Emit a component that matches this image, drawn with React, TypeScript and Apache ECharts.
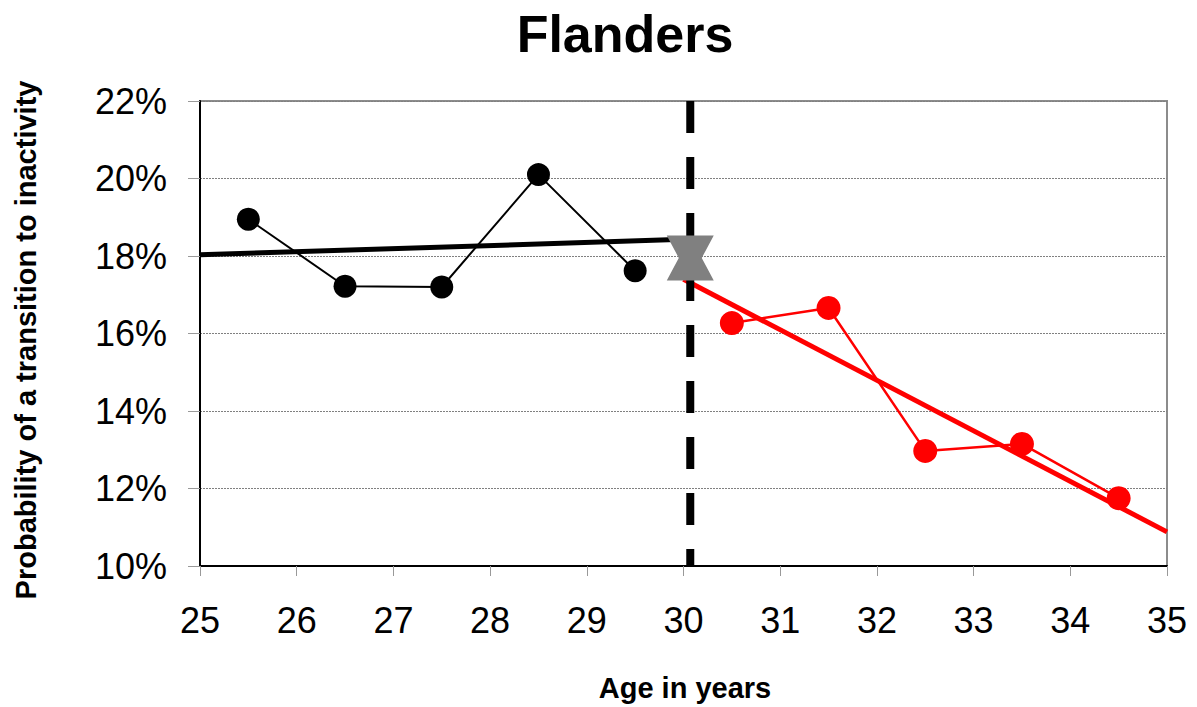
import React, { useEffect, useRef } from "react";
import * as echarts from "echarts";

const beforeAges = [25.5, 26.5, 27.5, 28.5, 29.5];
const beforeValues = [18.95, 17.22, 17.2, 20.1, 17.62];
const afterAges = [30.5, 31.5, 32.5, 33.5, 34.5];
const afterValues = [16.27, 16.66, 12.97, 13.15, 11.75];
const beforeTrendAges = [25, 30];
const beforeTrendValues = [18.03, 18.43];
const afterTrendAges = [30, 35];
const afterTrendValues = [17.4, 10.88];
const cutoffAge = [30.07];
const cutoffValue = [17.95];
const yTicks = [10, 12, 14, 16, 18, 20, 22];

const FONT = "Liberation Sans, Arial, sans-serif";

export default function App() {
  const ref = useRef<HTMLDivElement>(null);
  useEffect(() => {
    if (!ref.current) return;
    const chart = echarts.init(ref.current, null, { renderer: "svg" });
    const zip = (a: number[], b: number[]) => a.map((x, i) => [x, b[i]]);
    chart.setOption({
      animation: false,
      backgroundColor: "#ffffff",
      grid: {
        left: 200,
        right: 30,
        top: 101,
        bottom: 141,
        show: true,
        borderColor: "#8c8c8c",
        borderWidth: 2,
      },
      graphic: [
        {
          type: "text",
          x: 625,
          y: 34,
          style: {
            text: "Flanders",
            font: `bold 52px ${FONT}`,
            fill: "#000",
            align: "center",
            verticalAlign: "middle",
          },
        },
        {
          type: "text",
          x: 685,
          y: 688,
          style: {
            text: "Age in years",
            font: `bold 29px ${FONT}`,
            fill: "#000",
            align: "center",
            verticalAlign: "middle",
          },
        },
        {
          type: "text",
          x: 26,
          y: 340,
          rotation: Math.PI / 2,
          style: {
            text: "Probability of a transition to inactivity",
            font: `bold 29px ${FONT}`,
            fill: "#000",
            align: "center",
            verticalAlign: "middle",
          },
        },
      ],
      xAxis: {
        type: "value",
        min: 25,
        max: 35,
        interval: 1,
        axisLine: { show: true, lineStyle: { color: "#000", width: 2 } },
        axisTick: { show: true, length: 10, lineStyle: { color: "#999", width: 1 } },
        axisLabel: { color: "#000", fontSize: 36, fontFamily: FONT, margin: 36 },
        splitLine: { show: false },
      },
      yAxis: {
        type: "value",
        min: yTicks[0],
        max: yTicks[yTicks.length - 1],
        interval: 2,
        axisLine: { show: true, lineStyle: { color: "#000", width: 2 } },
        axisTick: { show: true, length: 12, lineStyle: { color: "#999", width: 1 } },
        axisLabel: {
          color: "#000",
          fontSize: 36,
          fontFamily: FONT,
          margin: 33,
          formatter: (v: number) => `${v}%`,
        },
        splitLine: { show: true, lineStyle: { color: "#808080", width: 1, type: [2, 1] } },
      },
      series: [
        {
          type: "line",
          data: zip(beforeAges, beforeValues),
          symbol: "circle",
          symbolSize: 23,
          itemStyle: { color: "#000" },
          lineStyle: { color: "#000", width: 2 },
          z: 3,
        },
        {
          type: "line",
          data: zip(beforeTrendAges, beforeTrendValues),
          symbol: "none",
          lineStyle: { color: "#000", width: 5 },
          z: 4,
        },
        {
          type: "line",
          data: zip(afterAges, afterValues),
          symbol: "circle",
          symbolSize: 24,
          itemStyle: { color: "#ff0000" },
          lineStyle: { color: "#ff0000", width: 2.5 },
          z: 3,
        },
        {
          type: "line",
          data: zip(afterTrendAges, afterTrendValues),
          symbol: "none",
          lineStyle: { color: "#ff0000", width: 5 },
          z: 4,
        },
        {
          type: "line",
          data: [
            [cutoffAge[0], yTicks[yTicks.length - 1]],
            [cutoffAge[0], yTicks[0]],
          ],
          symbol: "none",
          lineStyle: { color: "#000", width: 8, type: [32, 24], cap: "butt" },
          z: 5,
        },
        {
          type: "scatter",
          data: zip(cutoffAge, cutoffValue),
          symbol: "path://M0,0 L47,0 L35,22.5 L47,45 L0,45 L12,22.5 Z",
          symbolSize: [47, 45],
          itemStyle: { color: "#808080", opacity: 1 },
          z: 6,
        },
      ],
    });
    return () => chart.dispose();
  }, []);
  return (
    <div
      ref={ref}
      style={{ position: "fixed", left: 0, top: 0, width: 1197, height: 707 }}
    />
  );
}
